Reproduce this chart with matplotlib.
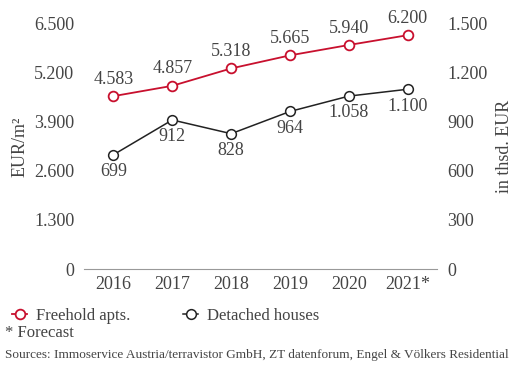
import matplotlib.pyplot as plt
from matplotlib.lines import Line2D

plt.rcParams["font.family"] = ["Liberation Serif", "DejaVu Serif"]

years = ["2016", "2017", "2018", "2019", "2020", "2021*"]
freehold = [4583, 4857, 5318, 5665, 5940, 6200]
detached = [699, 912, 828, 964, 1058, 1100]
left_ticks = [0, 1300, 2600, 3900, 5200, 6500]
right_ticks = [0, 300, 600, 900, 1200, 1500]

red = "#c8102e"
dark = "#222222"
txt = "#444444"


def fmt(v):
    return f"{v:,}".replace(",", ".")


fig = plt.figure(figsize=(5.15, 3.67), dpi=100)
ax = fig.add_axes([0.163, 0.267, 0.686, 0.668])
ax2 = ax.twinx()

x = list(range(len(years)))
ax.plot(x, freehold, color=red, lw=1.3, marker="o", ms=7, mfc="white", mec=red, mew=1.3, zorder=3)
ax2.plot(x, detached, color=dark, lw=1.1, marker="o", ms=7, mfc="white", mec=dark, mew=1.1, zorder=3)

for xi, v in zip(x, freehold):
    ax.annotate(fmt(v), (xi, v), xytext=(0, 6), textcoords="offset points",
                ha="center", va="bottom", fontsize=13, color=txt)
for xi, v in zip(x, detached):
    ax2.annotate(fmt(v), (xi, v), xytext=(0, -6), textcoords="offset points",
                 ha="center", va="top", fontsize=13, color=txt)

ax.set_xlim(-0.5, 5.5)
ax.set_ylim(0, 6500)
ax2.set_ylim(0, 1500)
ax.set_xticks(x)
ax.set_xticklabels(years)
ax.set_yticks(left_ticks)
ax.set_yticklabels([fmt(v) for v in left_ticks])
ax2.set_yticks(right_ticks)
ax2.set_yticklabels([fmt(v) for v in right_ticks])

for a in (ax, ax2):
    for s in a.spines.values():
        s.set_visible(False)
    a.tick_params(length=0, labelsize=13, colors=txt)
ax.spines["bottom"].set_visible(True)
ax.spines["bottom"].set_color("#999999")
ax.tick_params(axis="y", pad=7)
ax2.tick_params(axis="y", pad=7)
ax.tick_params(axis="x", pad=5)

ax.set_ylabel("EUR/m²", fontsize=13, color=txt, labelpad=4)
ax2.set_ylabel("in thsd. EUR", fontsize=13, color=txt, labelpad=6)

handles = [
    Line2D([], [], color=red, lw=1.3, marker="o", ms=7, mfc="white", mec=red, mew=1.3),
    Line2D([], [], color=dark, lw=1.1, marker="o", ms=7, mfc="white", mec=dark, mew=1.1),
]
fig.legend(handles, ["Freehold apts.", "Detached houses"], loc="center left",
           bbox_to_anchor=(-0.005, 0.14), ncol=2, frameon=False, fontsize=12,
           handlelength=0.9, handletextpad=0.5, columnspacing=3.2, labelcolor=txt)
fig.text(0.01, 0.093, "* Forecast", fontsize=12, color=txt, va="center")
fig.text(0.01, 0.033, "Sources: Immoservice Austria/terravistor GmbH, ZT datenforum, Engel & Völkers Residential",
         fontsize=9.5, color=txt, va="center")

fig.savefig("out.png", dpi=100)
